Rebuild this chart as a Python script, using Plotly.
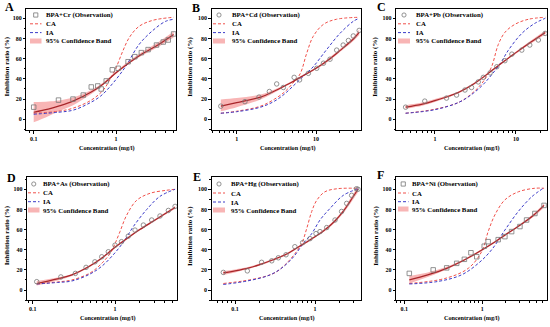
import plotly.graph_objects as go

W, H = 550, 327

# ---------------- data ----------------
A_obs_x = [0.1, 0.2, 0.3, 0.4, 0.5, 0.6, 0.66, 0.76, 0.9, 1.06, 1.4, 1.69, 2.03, 2.45, 3.1, 3.74, 4.3, 5.0]
A_obs_y = [12, 19, 20, 24, 32, 33, 30, 38, 49, 50.5, 57, 62, 66, 69, 73.5, 76.5, 78.5, 84.5]
A_fit_x = [0.1, 0.15, 0.2, 0.3, 0.5, 0.7, 1.0, 1.5, 2.0, 3.0, 5.0]
A_fit_y = [7, 10, 13, 18, 27, 35, 46, 57, 64, 72, 84]
A_lo = [-3, 3, 8, 14, 25, 34, 45, 56, 62.5, 70, 81]
A_hi = [17, 17.5, 18.5, 21.5, 29, 36.5, 47.5, 59, 66, 74.5, 87]
A_ca_x = [0.1, 0.2, 0.3, 0.5, 0.7, 0.85, 1.0, 1.2, 1.45, 1.9, 2.8, 5.0]
A_ca_y = [6, 8, 11, 19, 29, 40, 51, 67, 81, 92, 98, 101]
A_ia_x = [0.1, 0.2, 0.3, 0.45, 0.65, 0.9, 1.3, 1.9, 2.8, 4.0, 5.0]
A_ia_y = [5, 7, 9, 15, 23, 35, 52, 74, 88, 97, 99]

B_obs_x = [0.63, 1.27, 1.91, 2.58, 3.19, 3.87, 5.3, 6.2, 8.0, 10.2, 12.4, 15.0, 18.2, 22.0, 25.6, 29.5, 35.0]
B_obs_y = [13, 17.5, 22, 27.5, 35, 31.5, 41.5, 39, 45.5, 50.5, 55.5, 59.5, 68.5, 73.5, 78, 82.5, 88]
B_fit_x = [0.63, 1, 2, 3, 4, 5, 7, 10, 15, 20, 30, 35]
B_fit_y = [13, 16.5, 22, 28, 33, 37, 43.5, 50.5, 60, 68, 80, 86]
B_lo = [8, 12, 19.5, 26.5, 32, 36, 42.5, 49.5, 58.5, 66.5, 78, 83.5]
B_hi = [19.5, 21, 24.5, 29.5, 34, 38, 44.5, 51.5, 61.5, 69.5, 82, 89]
B_ca_x = [0.63, 1, 2, 3, 4, 5, 6.3, 7.6, 9.2, 12.4, 18, 35]
B_ca_y = [6, 8, 13, 20, 27, 35, 45, 65, 82, 94, 99, 101]
B_ia_x = [0.63, 1, 2, 3, 4, 5, 7, 9.2, 13.6, 20, 29.5, 35]
B_ia_y = [6, 7.5, 12, 18, 25, 32, 43, 52, 69, 85, 97, 100]

C_obs_x = [0.435, 0.75, 1.39, 1.85, 2.35, 2.83, 3.43, 3.96, 4.8, 5.8, 7.3, 8.9, 11.8, 14.8, 18.9, 22.9]
C_obs_y = [12, 18, 21, 24, 29, 31.5, 37, 41.5, 46, 52, 58, 64.5, 68.5, 73.5, 78.5, 85]
C_fit_x = [0.435, 0.7, 1, 1.5, 2, 3, 4, 5, 7, 10, 15, 23]
C_fit_y = [12, 15, 18.5, 23, 27, 35, 42, 48, 57, 66, 76, 86]
C_lo = [10.5, 13.5, 17, 22, 26, 34, 41, 47, 56, 65, 74.5, 84]
C_hi = [14, 16.5, 20, 24, 28, 36, 43, 49, 58, 67, 77.5, 88]
C_ca_x = [0.435, 1, 2, 3, 4, 5, 6.05, 7.3, 9.7, 14.2, 23]
C_ca_y = [6, 10, 17, 27, 38, 52, 74, 86, 94, 99, 101]
C_ia_x = [0.435, 1, 2, 3, 4, 5, 6.5, 8, 11.8, 17.1, 23]
C_ia_y = [6, 9.5, 17, 26, 35, 44, 56, 68, 85, 95, 100]

D_obs_x = [0.112, 0.22, 0.33, 0.445, 0.57, 0.69, 0.83, 1.0, 1.2, 1.45, 1.75, 2.21, 2.79, 3.52, 4.45, 5.37]
D_obs_y = [8.3, 13, 16.5, 22.5, 28, 33, 38, 44.5, 48, 53.5, 59.5, 64.5, 69.5, 73.5, 79, 83]
D_fit_x = [0.112, 0.2, 0.3, 0.5, 0.7, 1.0, 1.5, 2, 3, 4, 5.37]
D_fit_y = [6.5, 11, 15, 24, 32, 42.5, 53, 60, 69, 75.5, 82]
D_lo = [4.5, 9.5, 14, 23, 31, 41.5, 52, 59, 68, 74.5, 80.5]
D_hi = [9, 12.5, 16, 25, 33, 43.5, 54, 61, 70, 76.5, 83.5]
D_ca_x = [0.112, 0.2, 0.3, 0.5, 0.7, 0.9, 1.0, 1.15, 1.38, 1.83, 2.66, 4.2, 5.37]
D_ca_y = [6, 8, 10, 17, 27, 38, 46, 58, 74, 89, 96, 99, 100]
D_ia_x = [0.112, 0.2, 0.3, 0.5, 0.7, 1.0, 1.3, 1.67, 2.43, 3.52, 5.37]
D_ia_y = [6, 7.5, 9, 16, 24, 37, 49, 63, 80, 93, 100]

E_obs_x = [0.0714, 0.1425, 0.215, 0.288, 0.348, 0.434, 0.56, 0.7, 0.866, 1.03, 1.155, 1.4, 1.78, 2.15, 2.49, 2.87, 3.3, 3.45]
E_obs_y = [17.5, 19, 27.5, 29, 32, 35, 43, 47, 51, 56, 58, 62, 69.5, 78, 86, 94, 100.5, 100]
E_fit_x = [0.0714, 0.1, 0.15, 0.2, 0.3, 0.45, 0.6, 0.8, 1.0, 1.3, 1.8, 2.3, 2.8, 3.45]
E_fit_y = [17, 19, 22, 25, 30, 36, 42, 48, 53, 59, 69, 79, 89, 100]
E_lo = [15, 17.5, 21, 24, 29, 35, 41, 47, 52, 58, 67.5, 77, 86.5, 97]
E_hi = [19, 20.5, 23, 26, 31, 37, 43, 49, 54, 60.5, 70.5, 81, 91.5, 103]
E_ca_x = [0.0714, 0.127, 0.226, 0.33, 0.44, 0.56, 0.68, 0.787, 0.91, 1.05, 1.33, 1.87, 3.45]
E_ca_y = [6.5, 9, 13, 18, 26.5, 36, 46, 61, 78, 89, 97.5, 100.5, 101]
E_ia_x = [0.0714, 0.143, 0.274, 0.40, 0.54, 0.71, 0.91, 1.155, 1.54, 2.26, 3.45]
E_ia_y = [5.5, 9, 15, 23, 33, 46, 56, 69.5, 81, 94, 100.5]

F_obs_x = [0.116, 0.235, 0.35, 0.47, 0.59, 0.716, 0.85, 1.06, 1.19, 1.6, 1.95, 2.38, 3.04, 3.7, 4.73, 6.2]
F_obs_y = [16.5, 20, 22, 26.5, 30.5, 37, 33, 43.5, 48, 50, 53, 58, 63, 69.5, 76, 84]
F_fit_x = [0.116, 0.2, 0.35, 0.5, 0.7, 1.0, 1.5, 2, 3, 4.5, 6.2]
F_fit_y = [10, 15, 21.5, 27, 33, 40, 48.5, 55, 64, 74, 84]
F_lo = [6.5, 13, 20.5, 26, 32, 39, 47.5, 54, 63, 72.5, 82]
F_hi = [14, 17.5, 23, 28, 34, 41, 49.5, 56, 65, 75.5, 86]
F_ca_x = [0.116, 0.333, 0.66, 0.98, 1.19, 1.45, 1.95, 2.9, 4.7, 6.2]
F_ca_y = [6.5, 11.5, 21.5, 38, 58, 74.5, 89.5, 97.5, 101, 101]
F_ia_x = [0.116, 0.27, 0.54, 0.89, 1.32, 1.95, 2.9, 4.3, 6.05]
F_ia_y = [6, 8.5, 15, 26.5, 40, 59.5, 78, 92.5, 101]

PANEL_LABELS = ["A", "B", "C", "D", "E", "F"]
OBS_NAMES = ["BPA+Cr (Observation)", "BPA+Cd (Observation)", "BPA+Pb (Observation)",
             "BPA+As (Observation)", "BPA+Hg (Observation)", "BPA+Ni (Observation)"]
Y_TICKS = [0, 20, 40, 60, 80, 100]
X_TITLE = "Concentration (mg/l)"
Y_TITLE = "Inhibition ratio (%)"

# ---------------- styling ----------------
FONT = "Liberation Serif"
C_OBS = "#777777"
C_FIT = "#a8262a"
C_BAND = "rgba(242,120,120,0.55)"
C_CA = "#f0504a"
C_IA = "#3c3cc8"

panels = [
    dict(obs=(A_obs_x, A_obs_y), fit=(A_fit_x, A_fit_y), lo=A_lo, hi=A_hi, ca=(A_ca_x, A_ca_y), ia=(A_ia_x, A_ia_y),
         sym="square-open", xpx=(26.3, 176), xr=[-1.09, 0.728], row=0,
         letter=(9.2, 7.5), leg=(30, 41.5, 43.5, [15, 23.8, 32.6, 41]), ytx=6.7, xtx=107),
    dict(obs=(B_obs_x, B_obs_y), fit=(B_fit_x, B_fit_y), lo=B_lo, hi=B_hi, ca=(B_ca_x, B_ca_y), ia=(B_ia_x, B_ia_y),
         sym="circle-open", xpx=(211.5, 361), xr=[-0.318, 1.567], row=0,
         letter=(196.3, 7.7), leg=(213, 225, 229.5, [15, 23.8, 32.6, 41]), ytx=190, xtx=287.5),
    dict(obs=(C_obs_x, C_obs_y), fit=(C_fit_x, C_fit_y), lo=C_lo, hi=C_hi, ca=(C_ca_x, C_ca_y), ia=(C_ia_x, C_ia_y),
         sym="circle-open", xpx=(396, 547), xr=[-0.48, 1.383], row=0,
         letter=(381, 7.5), leg=(398, 410, 414, [15, 23.8, 32.6, 41]), ytx=375, xtx=471.7),
    dict(obs=(D_obs_x, D_obs_y), fit=(D_fit_x, D_fit_y), lo=D_lo, hi=D_hi, ca=(D_ca_x, D_ca_y), ia=(D_ia_x, D_ia_y),
         sym="circle-open", xpx=(27, 177), xr=[-1.069, 0.753], row=1,
         letter=(11, 177.5), leg=(28, 39.5, 41, [184, 192.8, 201.7, 210]), ytx=6.7, xtx=107.5),
    dict(obs=(E_obs_x, E_obs_y), fit=(E_fit_x, E_fit_y), lo=E_lo, hi=E_hi, ca=(E_ca_x, E_ca_y), ia=(E_ia_x, E_ia_y),
         sym="circle-open", xpx=(211.5, 361), xr=[-1.294, 0.575], row=1,
         letter=(196.5, 177), leg=(213, 225, 228.5, [184, 193, 202, 210]), ytx=189.3, xtx=286.7),
    dict(obs=(F_obs_x, F_obs_y), fit=(F_fit_x, F_fit_y), lo=F_lo, hi=F_hi, ca=(F_ca_x, F_ca_y), ia=(F_ia_x, F_ia_y),
         sym="square-open", xpx=(396, 547), xr=[-1.106, 0.83], row=1,
         letter=(380, 175), leg=(398, 408.5, 410, [184, 193, 201.7, 209]), ytx=376, xtx=471.7),
]

ROWS = [dict(ypx=(9.2, 130.4), yr=[-11, 109], xtitle_y=148.3),
        dict(ypx=(177.2, 300.1), yr=[-10, 112], xtitle_y=318.2)]


def px(x):
    return x / W


def py(y):
    return 1 - y / H


fig = go.Figure()
layout = dict(width=W, height=H, margin=dict(l=0, r=0, t=0, b=0),
              paper_bgcolor="white", plot_bgcolor="white", showlegend=False,
              font=dict(family=FONT, color="black"))
shapes, annotations = [], []

for i, p in enumerate(panels):
    n = "" if i == 0 else str(i + 1)
    xa, ya = "x" + n, "y" + n
    row = ROWS[p["row"]]
    common = dict(xaxis=xa, yaxis=ya, showlegend=False, hoverinfo="skip")
    fx, fy = p["fit"]
    fig.add_trace(go.Scatter(x=fx, y=p["lo"], mode="lines", line=dict(width=0, shape="spline"), **common))
    fig.add_trace(go.Scatter(x=fx, y=p["hi"], mode="lines", line=dict(width=0, shape="spline"),
                             fill="tonexty", fillcolor=C_BAND, **common))
    fig.add_trace(go.Scatter(x=p["ca"][0], y=p["ca"][1], mode="lines",
                             line=dict(color=C_CA, width=1, dash="3px,2px", shape="spline"), **common))
    fig.add_trace(go.Scatter(x=p["ia"][0], y=p["ia"][1], mode="lines",
                             line=dict(color=C_IA, width=1, dash="3px,2px", shape="spline"), **common))
    fig.add_trace(go.Scatter(x=fx, y=fy, mode="lines", line=dict(color=C_FIT, width=1.2, shape="spline"), **common))
    fig.add_trace(go.Scatter(x=p["obs"][0], y=p["obs"][1], mode="markers",
                             marker=dict(symbol=p["sym"], size=4.5, color=C_OBS, line=dict(width=0.8, color=C_OBS)),
                             **common))

    axis_common = dict(showline=True, linecolor="black", linewidth=0.8, mirror=True,
                       ticks="outside", ticklen=2.5, tickwidth=0.7, tickcolor="black",
                       showgrid=False, zeroline=False,
                       tickfont=dict(family=FONT, size=6, weight="bold", color="black"))
    layout["xaxis" + n] = dict(type="log", domain=[px(p["xpx"][0]), px(p["xpx"][1])], range=p["xr"],
                               anchor=ya, dtick=1,
                               minor=dict(ticks="outside", ticklen=1.5, tickwidth=0.5, tickcolor="black",
                                          showgrid=False),
                               **axis_common)
    layout["yaxis" + n] = dict(domain=[py(row["ypx"][1]), py(row["ypx"][0])], range=row["yr"],
                               anchor=xa, tickvals=Y_TICKS,
                               minor=dict(ticks="outside", ticklen=1.5, tickwidth=0.5, tickcolor="black",
                                          dtick=10, showgrid=False),
                               **axis_common)

    # panel letter
    annotations.append(dict(text=PANEL_LABELS[i], x=px(p["letter"][0]), y=py(p["letter"][1]),
                            xref="paper", yref="paper", showarrow=False, xanchor="center", yanchor="middle",
                            font=dict(family=FONT, size=12, weight="bold", color="black")))
    # axis titles
    annotations.append(dict(text=X_TITLE, x=px(p["xtx"]), y=py(row["xtitle_y"]), xref="paper", yref="paper",
                            showarrow=False, xanchor="center", yanchor="middle",
                            font=dict(family=FONT, size=6.2, weight="bold", color="black")))
    annotations.append(dict(text=Y_TITLE, x=px(p["ytx"]), y=py((row["ypx"][0] + row["ypx"][1]) / 2 - 3),
                            xref="paper", yref="paper", showarrow=False, textangle=-90,
                            xanchor="center", yanchor="middle",
                            font=dict(family=FONT, size=7, weight="bold", color="black")))

    # manual legend
    x0, x1, tx, rows_y = p["leg"]
    xc = (x0 + x1) / 2
    r = 2.1
    shapes.append(dict(type="circle" if "circle" in p["sym"] else "rect", xref="paper", yref="paper",
                       x0=px(xc - r), x1=px(xc + r), y0=py(rows_y[0] + r), y1=py(rows_y[0] - r),
                       line=dict(color=C_OBS, width=0.8), fillcolor="rgba(0,0,0,0)"))
    shapes.append(dict(type="line", xref="paper", yref="paper", x0=px(x0), x1=px(x1),
                       y0=py(rows_y[1]), y1=py(rows_y[1]), line=dict(color=C_CA, width=1, dash="3px,2px")))
    shapes.append(dict(type="line", xref="paper", yref="paper", x0=px(x0), x1=px(x1),
                       y0=py(rows_y[2]), y1=py(rows_y[2]), line=dict(color=C_IA, width=1, dash="3px,2px")))
    shapes.append(dict(type="rect", xref="paper", yref="paper", x0=px(x0), x1=px(x1),
                       y0=py(rows_y[3] + 2.5), y1=py(rows_y[3] - 2.5),
                       line=dict(width=0), fillcolor=C_BAND))
    for txt, yy in zip([OBS_NAMES[i], "CA", "IA", "95% Confidence Band"], rows_y):
        annotations.append(dict(text=txt, x=px(tx), y=py(yy), xref="paper", yref="paper", showarrow=False,
                                xanchor="left", yanchor="middle",
                                font=dict(family=FONT, size=6.8, weight="bold", color="black")))

layout["shapes"] = shapes
layout["annotations"] = annotations
fig.update_layout(**layout)
fig.write_html("out.html", config={"displayModeBar": False},
               post_script="document.body.style.margin='0px';document.body.style.padding='0px';")
